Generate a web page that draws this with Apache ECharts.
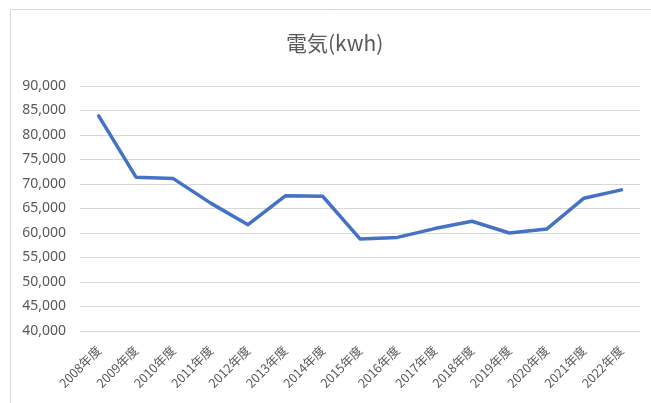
<!DOCTYPE html>
<html>
<head>
<meta charset="utf-8">
<script src="https://cdn.jsdelivr.net/npm/echarts@6/dist/echarts.min.js"></script>
<style>
  html, body { margin: 0; padding: 0; background: #fff; }
  #chart { width: 651px; height: 403px; }
</style>
</head>
<body>
<div id="chart"></div>
<script>
// Annual electricity usage (kWh) by fiscal year
const years = ['2008年度','2009年度','2010年度','2011年度','2012年度','2013年度','2014年度','2015年度',
               '2016年度','2017年度','2018年度','2019年度','2020年度','2021年度','2022年度'];
const usage = [83900, 71400, 71100, 66100, 61700, 67600, 67500, 58800,
               59100, 60900, 62400, 60000, 60800, 67100, 68800];
const yMin = 40000, yMax = 90000, yStep = 5000;

const textColor = '#595959';
const font = '"Noto Sans CJK JP", "Noto Sans", sans-serif';

const chart = echarts.init(document.getElementById('chart'), null, { renderer: 'canvas' });
chart.setOption({
  backgroundColor: '#ffffff',
  animation: false,
  graphic: [{
    type: 'rect',
    shape: { x: 10.5, y: 9.5, width: 700, height: 500 },
    style: { fill: 'none', stroke: '#d9d9d9', lineWidth: 1 },
    silent: true,
    z: -1
  }],
  title: {
    text: '電気(kwh)',
    left: 281,
    top: 28,
    textStyle: { color: textColor, fontSize: 21, fontWeight: 'normal', fontFamily: font }
  },
  grid: { left: 80, right: 11, top: 86, bottom: 72 },
  xAxis: {
    type: 'category',
    data: years,
    boundaryGap: true,
    axisLine: { show: false },
    axisTick: { show: false },
    axisLabel: {
      rotate: 45,
      margin: 17,
      color: textColor,
      fontSize: 12.5,
      fontFamily: font
    }
  },
  yAxis: {
    type: 'value',
    min: yMin,
    max: yMax,
    interval: yStep,
    axisLine: { show: false },
    axisTick: { show: false },
    axisLabel: {
      margin: 14,
      color: textColor,
      fontSize: 14,
      fontFamily: '"Noto Sans", sans-serif',
      formatter: v => v.toLocaleString('en-US')
    },
    splitLine: { lineStyle: { color: '#d9d9d9', width: 1 } }
  },
  series: [{
    type: 'line',
    data: usage,
    symbol: 'none',
    lineStyle: { color: '#4472C4', width: 3.5, join: 'round', cap: 'round' }
  }]
});
</script>
</body>
</html>
